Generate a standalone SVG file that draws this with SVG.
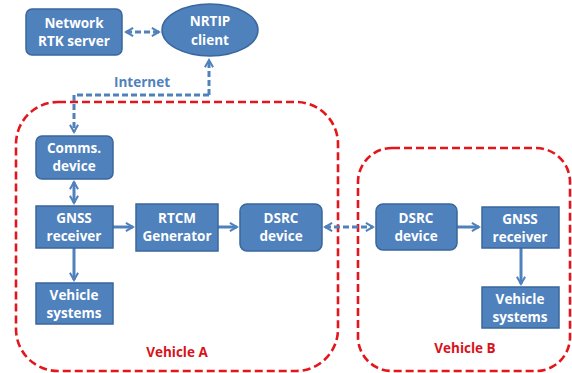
<svg xmlns="http://www.w3.org/2000/svg" width="572" height="373" viewBox="0 0 572 373">
<defs>
<style>
.box{fill:#4F81BD;stroke:#3A679C;stroke-width:1.5}
.t{font-family:"Open Sans","Liberation Sans",sans-serif;font-weight:bold;font-size:13.5px;fill:#fff;text-anchor:middle}
.red{fill:none;stroke:#E3161B;stroke-width:2.6;stroke-dasharray:8 4}
.rt{font-family:"Open Sans","Liberation Sans",sans-serif;font-weight:bold;font-size:13.5px;fill:#D9121A;text-anchor:middle}
.c{fill:none;stroke:#4F81BD;stroke-width:3}
.d{stroke-dasharray:6 3}
</style>
<marker id="ah" viewBox="0 0 10 10" refX="8" refY="5" markerWidth="3.4" markerHeight="3.4" orient="auto-start-reverse" markerUnits="strokeWidth">
<path d="M1,1 L8,5 L1,9" fill="none" stroke="#4F81BD" stroke-width="2"/>
</marker>
</defs>
<rect width="572" height="373" fill="#fff"/>
<g id="vehicleA-frame"><rect class="red" x="16" y="102" width="322" height="269" rx="42"/><text class="rt" x="177" y="357">Vehicle A</text></g>
<g id="vehicleB-frame"><rect class="red" x="358" y="148" width="212" height="223" rx="34"/><text class="rt" x="465" y="353">Vehicle B</text></g>
<g id="connectors">
<line class="c d" x1="126" y1="32" x2="159" y2="32" marker-start="url(#ah)" marker-end="url(#ah)"/>
<path class="c d" d="M209,95 V60" marker-end="url(#ah)"/>
<path class="c d" d="M209,95 H74 V132" marker-end="url(#ah)"/>
<text x="142" y="87" font-family="'Open Sans','Liberation Sans',sans-serif" font-weight="bold" font-size="13.5" fill="#4F81BD" text-anchor="middle">Internet</text>
<line class="c" x1="74" y1="182" x2="74" y2="203" marker-start="url(#ah)" marker-end="url(#ah)"/>
<line class="c" x1="74" y1="248" x2="74" y2="280" marker-end="url(#ah)"/>
<line class="c" x1="113" y1="227" x2="133" y2="227" marker-end="url(#ah)"/>
<line class="c" x1="218" y1="227" x2="237" y2="227" marker-end="url(#ah)"/>
<line class="c d" x1="325" y1="227" x2="373" y2="227" marker-start="url(#ah)" marker-end="url(#ah)"/>
<line class="c" x1="457" y1="227" x2="479" y2="227" marker-end="url(#ah)"/>
<line class="c" x1="521" y1="248" x2="521" y2="284" marker-end="url(#ah)"/>
</g>
<g id="network-rtk"><rect class="box" x="26" y="9" width="96" height="46" rx="6"/><text class="t" x="74" y="28">Network</text><text class="t" x="74" y="46">RTK server</text></g>
<g id="nrtip"><ellipse class="box" cx="210" cy="30" rx="48" ry="26"/><text class="t" x="210" y="26">NRTIP</text><text class="t" x="210" y="45">client</text></g>
<g id="comms"><rect class="box" x="36" y="136" width="77" height="43" rx="6"/><text class="t" x="74" y="153">Comms.</text><text class="t" x="74" y="171">device</text></g>
<g id="gnss-a"><rect class="box" x="36" y="206" width="77" height="42"/><text class="t" x="74" y="223">GNSS</text><text class="t" x="74" y="241">receiver</text></g>
<g id="vehsys-a"><rect class="box" x="36" y="283" width="77" height="41"/><text class="t" x="74" y="300">Vehicle</text><text class="t" x="74" y="318">systems</text></g>
<g id="rtcm"><rect class="box" x="136" y="204" width="82" height="47"/><text class="t" x="177" y="223">RTCM</text><text class="t" x="177" y="241">Generator</text></g>
<g id="dsrc-a"><rect class="box" x="240" y="204" width="82" height="47" rx="7"/><text class="t" x="281" y="223">DSRC</text><text class="t" x="281" y="241">device</text></g>
<g id="dsrc-b"><rect class="box" x="376" y="204" width="81" height="46" rx="7"/><text class="t" x="416" y="223">DSRC</text><text class="t" x="416" y="241">device</text></g>
<g id="gnss-b"><rect class="box" x="482" y="207" width="77" height="41"/><text class="t" x="520" y="224">GNSS</text><text class="t" x="520" y="242">receiver</text></g>
<g id="vehsys-b"><rect class="box" x="482" y="287" width="77" height="41"/><text class="t" x="520" y="304">Vehicle</text><text class="t" x="520" y="322">systems</text></g>
</svg>
